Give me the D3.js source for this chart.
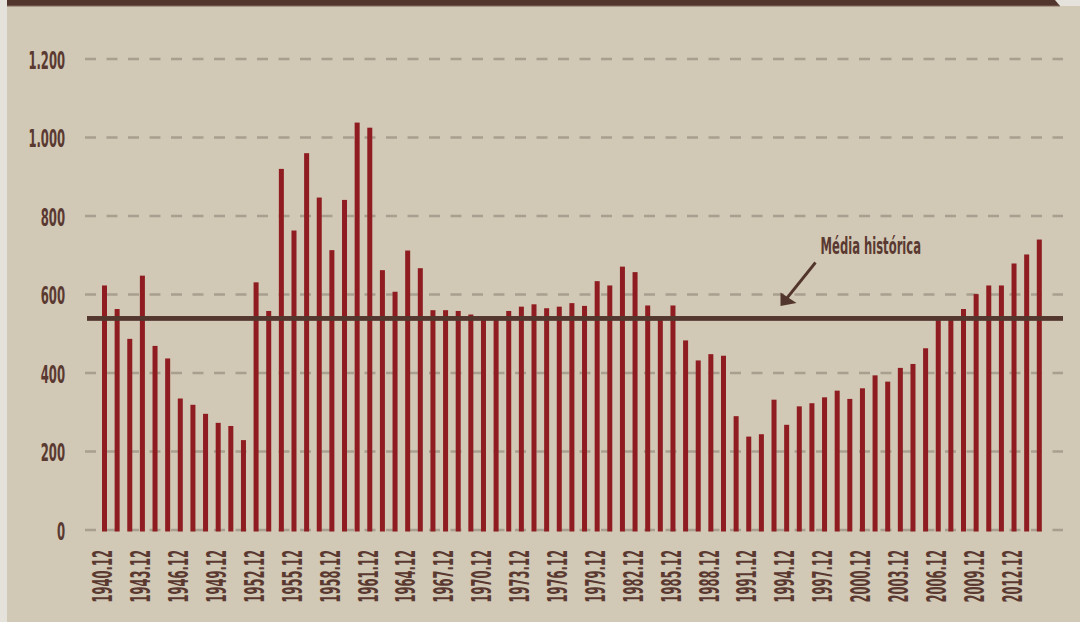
<!DOCTYPE html>
<html><head><meta charset="utf-8">
<script src="https://cdn.jsdelivr.net/npm/d3@7"></script>
<style>
html,body{margin:0;padding:0;background:#d1c8b5;}
svg{display:block;}
text{font-family:"Liberation Sans Narrow","Arial Narrow","DejaVu Sans Condensed","Liberation Sans",sans-serif;fill:#5a3931;}
</style></head>
<body>
<svg id="chart" width="1080" height="622"></svg>
<script>
const years = [1940,1941,1942,1943,1944,1945,1946,1947,1948,1949,1950,1951,1952,1953,1954,1955,1956,1957,1958,1959,
  1960,1961,1962,1963,1964,1965,1966,1967,1968,1969,1970,1971,1972,1973,1974,1975,1976,1977,1978,1979,
  1980,1981,1982,1983,1984,1985,1986,1987,1988,1989,1990,1991,1992,1993,1994,1995,1996,1997,1998,1999,
  2000,2001,2002,2003,2004,2005,2006,2007,2008,2009,2010,2011,2012,2013,2014];
const values = [623,563,487,648,469,437,335,319,296,273,265,229,631,558,920,763,960,847,713,841,
  1038,1025,662,607,712,667,560,560,558,549,537,537,558,569,575,565,569,578,571,634,
  623,671,657,572,537,572,483,432,448,444,290,238,244,332,268,315,323,338,355,334,
  361,394,378,413,423,463,537,537,563,601,623,623,679,702,740];
const tickYears = [1940,1943,1946,1949,1952,1955,1958,1961,1964,1967,1970,1973,1976,1979,1982,1985,1988,1991,1994,1997,2000,2003,2006,2009,2012];
const tickLabels = ["1940.12","1943.12","1946.12","1949.12","1952.12","1955.12","1958.12","1961.12","1964.12","1967.12","1970.12","1973.12","1976.12","1979.12","1982.12","1985.12","1988.12","1991.12","1994.12","1997.12","2000.12","2003.12","2006.12","2009.12","2012.12"];
const yTicks = [0,200,400,600,800,1000,1200];
const historicalMean = 539;
const annotationText = "Média histórica";

const svg = d3.select("#chart");
const W = 1080, H = 622;
const FONT = '"Liberation Sans Narrow","Arial Narrow","DejaVu Sans Condensed",sans-serif';

// page decoration
svg.append("rect").attr("x",0).attr("y",0).attr("width",W).attr("height",H).attr("fill","#d1c8b5");
svg.append("rect").attr("x",0).attr("y",0).attr("width",7).attr("height",H).attr("fill","#e5e1db");
svg.append("rect").attr("x",1040).attr("y",0).attr("width",40).attr("height",6).attr("fill","#e5e1db");
svg.append("path").attr("d","M7,0 L1055,0 L1060,6 L7,6 Z").attr("fill","#52352c");
svg.append("rect").attr("x",7).attr("y",5.6).attr("width",1053).attr("height",1).attr("fill","#8f786b");

const x = d3.scalePoint().domain(years).range([104.5,1039.3]);
const y = d3.scaleLinear().domain([0,1200]).range([530,59]);
const loc = d3.formatLocale({decimal:",",thousands:".",grouping:[3],currency:["R$",""]});
const fmt = loc.format(",d");

// gridlines
svg.append("g").selectAll("line").data(yTicks).join("line")
  .attr("x1",85).attr("x2",1063)
  .attr("y1",d=>y(d)).attr("y2",d=>y(d))
  .attr("stroke","#a99f90").attr("stroke-width",2.6)
  .attr("stroke-dasharray","11,10.5");

// bars
const bw = 5;
svg.append("g").selectAll("rect").data(values).join("rect")
  .attr("x",(d,i)=>x(years[i])-bw/2)
  .attr("width",bw)
  .attr("y",d=>y(d))
  .attr("height",d=>y(0)+1.5-y(d))
  .attr("fill","#8e1c20");

// mean line
svg.append("rect").attr("x",87).attr("width",976)
  .attr("y",y(historicalMean)-2.4).attr("height",4.8).attr("fill","#53362d");

// y axis
const yAxis = svg.append("g").attr("transform","translate(65,0)")
  .call(d3.axisLeft(y).tickValues(yTicks).tickSize(0).tickPadding(0).tickFormat(fmt));
yAxis.select(".domain").remove();
yAxis.selectAll("text")
  .attr("font-size",25).attr("font-weight","bold").attr("fill","#5a3931")
  .attr("dy","0.36em")
  .style("font-family",FONT)
  .attr("textLength",function(d){const s=fmt(d);let w=0;for(const c of s){w+=(c==="."?4.2:8.1);}return w;})
  .attr("lengthAdjust","spacingAndGlyphs");

// x axis
const xAxis = svg.append("g")
  .call(d3.axisBottom(x).tickValues(tickYears).tickSize(0)
    .tickFormat(d=>tickLabels[tickYears.indexOf(d)]));
xAxis.select(".domain").remove();
xAxis.selectAll(".tick").attr("transform",d=>`translate(${x(d)-2},550)`);
xAxis.selectAll("text")
  .attr("x",0).attr("y",0).attr("dy","0.36em")
  .attr("transform","rotate(-90)")
  .attr("text-anchor","end")
  .attr("font-size",27).attr("font-weight","bold").attr("fill","#5a3931")
  .style("font-family",FONT)
  .attr("textLength",52.5).attr("lengthAdjust","spacingAndGlyphs");

// annotation
svg.append("text").attr("x",820.5).attr("y",254)
  .attr("font-size",23).attr("font-weight","bold").attr("fill","#52352c")
  .style("font-family",FONT)
  .attr("textLength",100.5).attr("lengthAdjust","spacingAndGlyphs")
  .text(annotationText);
svg.append("line").attr("x1",815.5).attr("y1",262.5).attr("x2",787).attr("y2",298)
  .attr("stroke","#52352c").attr("stroke-width",2.8);
svg.append("path").attr("d","M780.5,306 L780.5,292.5 L796.5,303 Z").attr("fill","#52352c");
</script>
</body></html>
